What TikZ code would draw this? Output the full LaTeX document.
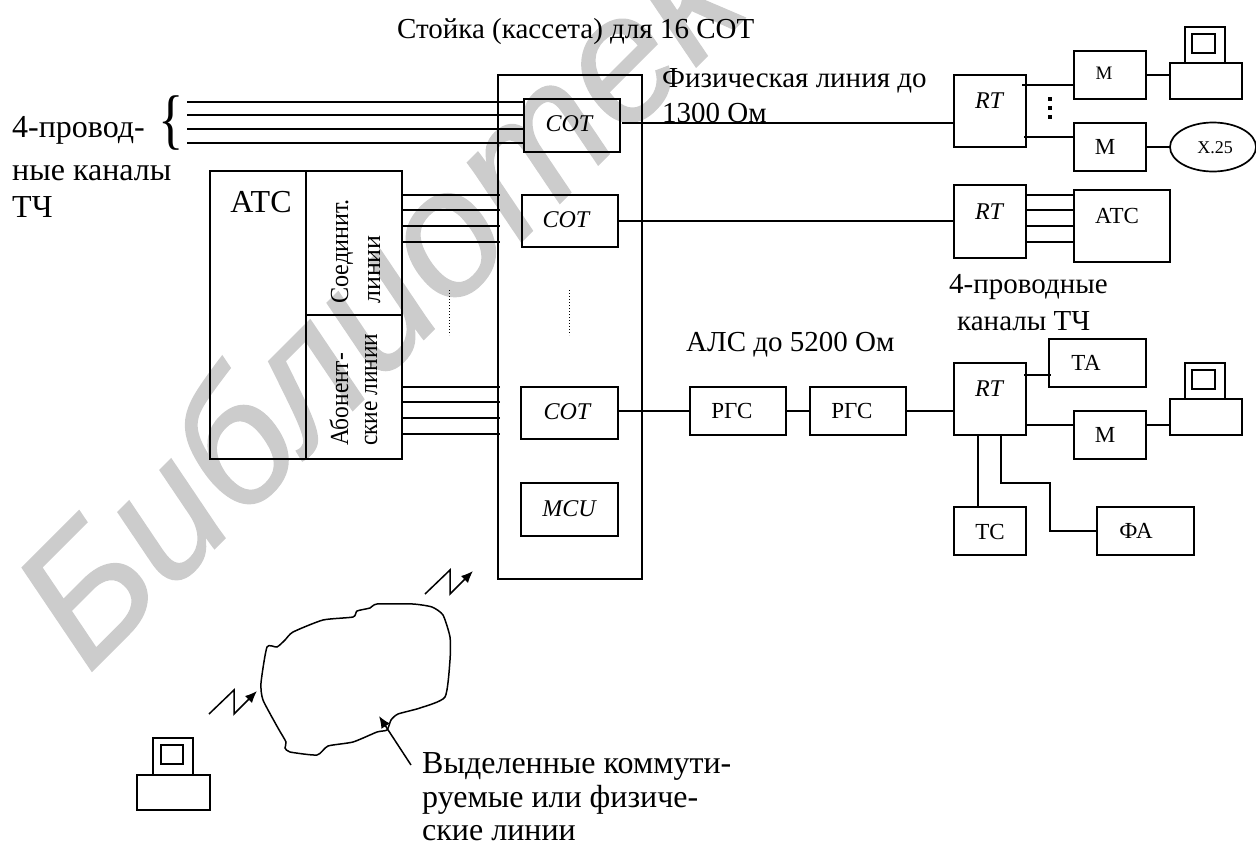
\documentclass[tikz,border=0pt]{standalone}
\usepackage{fontspec}
\setmainfont{Liberation Serif}
\newfontfamily\markfont[ItalicFeatures={FakeBold=0.8}]{Liberation Sans}
\usetikzlibrary{shapes, arrows, arrows.meta, positioning, calc}
\newcommand{\bigtext}{\fontsize{29}{35}\selectfont}
\newcommand{\hugetext}{\fontsize{32}{38}\selectfont}
\newcommand{\boxtext}{\fontsize{23}{28}\selectfont}

\tikzset{
  boxnode/.style={draw, line width=1.7pt, inner sep=0pt, outer sep=0pt},
  wire/.style={line width=1.5pt},
  note/.style={anchor=base west, inner sep=0pt, font=\bigtext},
  bignote/.style={anchor=base west, inner sep=0pt, font=\hugetext},
  sideways/.style={anchor=base west, inner sep=0pt, rotate=90, font=\fontsize{26}{30}\selectfont},
  boxlabel/.style={inner sep=0pt, font=\boxtext},
  codelabel/.style={inner sep=0pt, font=\fontsize{24}{28}\selectfont\itshape},
  bolt/.style={line width=1.5pt, -{Latex[length=12pt,width=10pt]}},
}

\begin{document}
\begin{tikzpicture}[x=1pt,y=-1pt]
  \useasboundingbox (0,0) rectangle (1256,844);

  % Watermark
  \begin{scope}
    \clip (0,0) rectangle (1256,844);
    \node[inner sep=0pt, anchor=base west, rotate=45, text=black!20, font=\fontsize{178}{178}\selectfont\markfont\itshape] (stamp) at (88,675) {Библиотека};
  \end{scope}

  % Rack with its cards
  \node[boxnode, minimum width=144pt, minimum height=504pt] (rack) at (570,327) {};
  \node[boxnode, minimum width=96pt, minimum height=53pt] (cota) at (572,125.5) {};
  \node[boxnode, minimum width=96pt, minimum height=52pt] (cotb) at (570,221) {};
  \node[boxnode, minimum width=97pt, minimum height=52pt] (cotc) at (569.5,413) {};
  \node[boxnode, minimum width=97pt, minimum height=53pt] (mcu) at (569.5,509.5) {};
  \node[codelabel] (cotatxt) at (569,124) {COT};
  \node[codelabel] (cotbtxt) at (566,220) {COT};
  \node[codelabel] (cotctxt) at (567,412) {COT};
  \node[codelabel] (mcutxt) at (569,509) {MCU};

  % Exchange on the left
  \node[boxnode, minimum width=96pt, minimum height=288pt] (atca) at (258,315) {};
  \node[boxnode, minimum width=96pt, minimum height=144pt] (trunk) at (354,243) {};
  \node[boxnode, minimum width=96pt, minimum height=144pt] (subs) at (354,387) {};
  \node[inner sep=0pt, font=\hugetext] (atcatxt) at (261,202) {АТС};
  \node[sideways, xscale=0.93] (trunktxta) at (348,304) {Соединит.};
  \node[sideways] (trunktxtb) at (380,304) {линии};
  \node[sideways, xscale=0.9] (substxta) at (348,446) {Абонент-};
  \node[sideways, xscale=0.9] (substxtb) at (377,446) {ские линии};

  % Remote units
  \node[boxnode, minimum width=72pt, minimum height=72pt] (rta) at (990,111) {};
  \node[boxnode, minimum width=72pt, minimum height=73pt] (rtb) at (990,221.5) {};
  \node[boxnode, minimum width=72pt, minimum height=72pt] (rtc) at (990,399) {};
  \node[codelabel] (rtatxt) at (989,101) {RT};
  \node[codelabel] (rtbtxt) at (989,212) {RT};
  \node[codelabel] (rtctxt) at (989,389) {RT};

  % Modems and the other boxes
  \node[boxnode, minimum width=72pt, minimum height=48pt] (ma) at (1110,75) {};
  \node[boxnode, minimum width=72pt, minimum height=48pt] (mb) at (1110,147) {};
  \node[boxnode, minimum width=72pt, minimum height=48pt] (mc) at (1110,435) {};
  \node[boxnode, minimum width=96pt, minimum height=72pt] (atcb) at (1122,226) {};
  \node[boxnode, minimum width=97pt, minimum height=48pt] (ta) at (1097.5,363) {};
  \node[boxnode, minimum width=96pt, minimum height=48pt] (rgsa) at (738,411) {};
  \node[boxnode, minimum width=96pt, minimum height=48pt] (rgsb) at (858,411) {};
  \node[boxnode, minimum width=72pt, minimum height=48pt] (tc) at (990,531) {};
  \node[boxnode, minimum width=97pt, minimum height=48pt] (fa) at (1145.5,531) {};
  \node[boxnode, ellipse, minimum width=86pt, minimum height=49pt] (xnet) at (1213,147) {};
  \node[inner sep=0pt, font=\fontsize{19}{23}\selectfont] (matxt) at (1104,73) {М};
  \node[boxlabel] (mbtxt) at (1105,147) {М};
  \node[boxlabel] (mctxt) at (1105,435) {М};
  \node[boxlabel] (atcbtxt) at (1117,216) {АТС};
  \node[boxlabel] (tatxt) at (1086,363) {ТА};
  \node[boxlabel] (rgsatxt) at (732,411) {РГС};
  \node[boxlabel] (rgsbtxt) at (852,411) {РГС};
  \node[boxlabel] (tctxt) at (990,532) {ТС};
  \node[boxlabel] (fatxt) at (1136,531) {ФА};
  \node[inner sep=0pt, font=\fontsize{18}{22}\selectfont] (xnettxt) at (1215,148) {X.25};

  % Terminals
  \node[boxnode, minimum width=40pt, minimum height=36pt] (moniA) at (1205,45) {};
  \node[boxnode, minimum width=23pt, minimum height=19pt] (scrA) at (1203.5,43.5) {};
  \node[boxnode, minimum width=72pt, minimum height=36pt] (baseA) at (1206,81) {};
  \node[boxnode, minimum width=40pt, minimum height=36pt] (moniB) at (1205,381) {};
  \node[boxnode, minimum width=23pt, minimum height=19pt] (scrB) at (1203.5,379.5) {};
  \node[boxnode, minimum width=72pt, minimum height=36pt] (baseB) at (1206,417) {};
  \node[boxnode, minimum width=40pt, minimum height=37pt] (moniC) at (173,756.5) {};
  \node[boxnode, minimum width=22pt, minimum height=19pt] (scrC) at (172,754.5) {};
  \node[boxnode, minimum width=73pt, minimum height=35pt] (baseC) at (173.5,792.5) {};

  % Channels into the first card
  \coordinate (chanstart) at (187,0);
  \foreach \y in {102,115,129,143}
    \draw[wire] (chanstart |- 0,\y) -- (cota.west |- 0,\y);
  \node[inner sep=0pt, xscale=0.8, font=\fontsize{66}{66}\selectfont] (chanbrace) at (171,123) {\{};

  % Exchange lines into the rack
  \foreach \y in {195,210,226,242}
    \draw[wire] (trunk.east |- 0,\y) -- ($(rack.west |- 0,\y)+(2,0)$);
  \foreach \y in {387,402,418,434}
    \draw[wire] (subs.east |- 0,\y) -- ($(rack.west |- 0,\y)+(2,0)$);
  \draw[line width=1pt, dotted] (449,290) -- (449,335);
  \draw[line width=1pt, dotted] (569,290) -- (569,335);

  % Lines to the remote side
  \coordinate (linea) at (622,123);
  \draw[wire] (linea) -- (linea -| rta.west);
  \draw[wire] (cotb.east) -- (cotb.east -| rtb.west);
  \draw[wire] (cotc.east |- 0,411) -- (rgsa.west);
  \draw[wire] (rgsa.east) -- (rgsb.west);
  \draw[wire] (rgsb.east) -- (rgsb.east -| rtc.west);
  \coordinate (rtaup) at (1022,85);
  \coordinate (rtadown) at (1024,137);
  \coordinate (rtcup) at (1024,375);
  \draw[wire] (rtaup) -- (rtaup -| ma.west);
  \draw[wire] (rtadown) -- (rtadown -| mb.west);
  \draw[wire] (rtcup) -- ($(rtcup -| ta.west)+(2,0)$);
  \draw[wire] (ma.east) -- (ma.east -| baseA.west);
  \draw[wire] (mb.east) -- (xnet.west);
  \draw[wire] (rtc.east |- 0,425) -- (mc.west |- 0,425);
  \draw[wire] (mc.east |- 0,425) -- (baseB.west |- 0,425);
  \foreach \y in {195,210,226,242}
    \draw[wire] (rtb.east |- 0,\y) -- (atcb.west |- 0,\y);
  \draw[wire] (rtc.south -| 978,0) -- (tc.north -| 978,0);
  \draw[wire] (rtc.south -| 1001,0) |- (1050,483) |- (fa.west);
  \foreach \y in {101,110,119}
    \fill (1048,\y) rectangle ++(4,-4);

  % Line cloud
  \draw[line width=1.5pt] plot[smooth cycle, tension=0.35] coordinates {
    (267,647) (277,647) (285,640) (293,632) (323,620) (353,617) (357,611) (370,608)
    (377,604) (413,604) (432,607) (443,615) (450,637) (450,660) (445,697) (420,708)
    (398,714) (391,720) (387,730) (377,732) (353,742) (328,746) (317,755) (290,752)
    (285,748) (286,742) (278,728) (263,700) (261,683)};

  % Modem links
  \draw[bolt] (425,594) -- (450,570) -- (450,594) -- (473,571);
  \draw[bolt] (209,714) -- (234,690) -- (234,714) -- (257,691);
  \draw[bolt] (411,765) -- (379,716);

  % Labels
  \node[note] (racktitle) at (397,38) {Стойка (кассета) для 16 СОТ};
  \node[note] (phya) at (662,87) {Физическая линия до};
  \node[note] (phyb) at (662,122) {1300 Ом};
  \node[bignote] (chana) at (12,137) {4-провод-};
  \node[bignote] (chanb) at (12,180) {ные каналы};
  \node[bignote] (chanc) at (12,217) {ТЧ};
  \node[note] (fourw) at (949,293) {4-проводные};
  \node[note] (fourx) at (957,330) {каналы ТЧ};
  \node[note] (als) at (686,351) {АЛС до 5200 Ом};
  \node[bignote] (lina) at (422,773) {Выделенные коммути-};
  \node[bignote] (linb) at (422,807) {руемые или физиче-};
  \node[bignote] (linc) at (422,840) {ские линии};
\end{tikzpicture}
\end{document}
